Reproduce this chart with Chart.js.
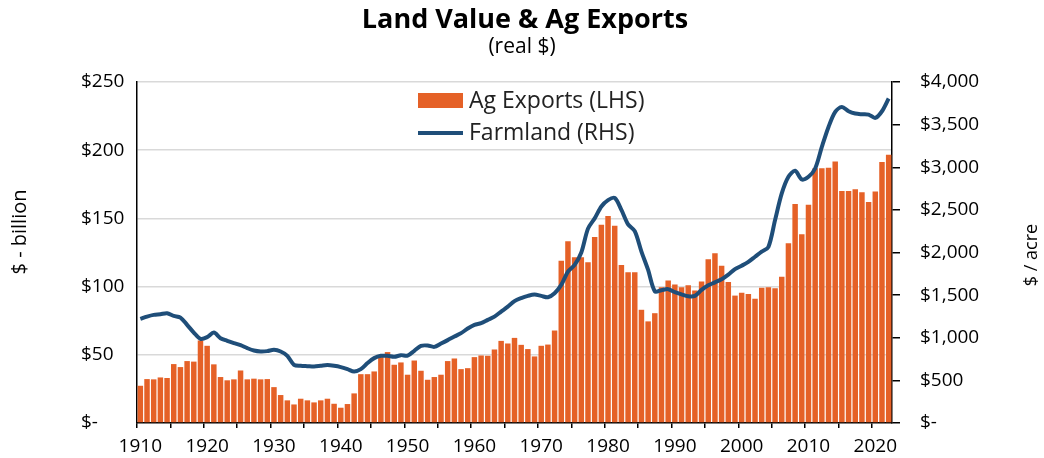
<!DOCTYPE html>
<html>
<head>
<meta charset="utf-8">
<title>Land Value & Ag Exports</title>
<script src="https://cdn.jsdelivr.net/npm/chart.js@4.4.1/dist/chart.umd.min.js"></script>
<style>
    html, body { margin: 0; padding: 0; background: #fff; }
    #wrap { width: 1044px; height: 458px; }
</style>
</head>
<body>
<div id="wrap"><canvas id="myChart" width="1044" height="458"></canvas></div>
<script>
// years on the x axis
const years = [];
for (let y = 1910; y <= 2022; y++) {
    years.push(y);
}

// Ag exports, $ billion (real)
const agExports = [
    27.3, 32.2, 32.0, 33.4, 33.0, 43.2, 41.0, 45.4, 45.0, 60.5,   // 1910s
    56.6, 43.0, 33.7, 31.3, 32.0, 38.5, 32.0, 32.5, 32.0, 32.2,   // 1920s
    26.3, 20.5, 16.6, 13.6, 17.8, 16.6, 15.1, 16.6, 17.8, 14.1,   // 1930s
    11.2, 13.9, 21.7, 35.8, 35.8, 37.8, 48.3, 52.0, 42.7, 44.4,   // 1940s
    35.4, 45.8, 38.3, 31.7, 33.7, 35.4, 45.4, 47.3, 39.5, 40.2,   // 1950s
    48.3, 49.5, 49.3, 53.9, 60.2, 58.3, 62.4, 57.3, 54.2, 48.8,   // 1960s
    56.6, 57.5, 67.8, 119.0, 133.2, 121.5, 121.5, 117.8, 136.4, 145.4, // 1970s
    151.8, 144.7, 115.9, 110.5, 110.5, 83.0, 74.5, 80.5, 99.5, 104.4,  // 1980s
    101.5, 99.5, 101.0, 97.1, 103.8, 120.0, 124.5, 115.2, 103.3, 93.4, // 1990s
    95.5, 94.5, 91.1, 99.2, 99.5, 98.7, 107.3, 131.8, 160.5, 138.4,    // 2000s
    160.0, 186.7, 186.7, 187.1, 191.8, 170.0, 170.0, 171.3, 169.1, 162.0, // 2010s
    169.8, 191.3, 196.6                                                   // 2020s
];

// Farmland value, $ per acre (real)
const farmland = [
    1221, 1248, 1268, 1276, 1288, 1256, 1237, 1151, 1061, 987,
    1007, 1061, 995, 964, 937, 913, 878, 850, 839, 843,
    858, 839, 788, 683, 671, 667, 663, 671, 679, 671,
    656, 632, 604, 632, 703, 761, 788, 788, 776, 796,
    791, 847, 905, 909, 893, 932, 972, 1014, 1054, 1108,
    1151, 1171, 1210, 1248, 1307, 1365, 1429, 1465, 1491, 1506,
    1491, 1475, 1522, 1620, 1775, 1854, 2000, 2280, 2400, 2540,
    2615, 2640, 2500, 2330, 2250, 2010, 1795, 1545, 1558, 1570,
    1535, 1508, 1486, 1491, 1561, 1615, 1650, 1685, 1740, 1805,
    1845, 1890, 1950, 2010, 2065, 2381, 2693, 2888, 2958, 2857,
    2888, 2986, 3239, 3473, 3649, 3707, 3657, 3630, 3622, 3618,
    3579, 3657, 3806
];

const seriesNames = ['Ag Exports (LHS)', 'Farmland (RHS)'];
const axisTitles = ['$ - billion', '$ / acre'];
const titleText = 'Land Value & Ag Exports';
const subtitleText = '(real $)';

const ORANGE = '#E56127';
const BLUE = '#1F4E79';
const FONT = 'Open Sans';

function money(v) {
    if (v == 0) return '$-';
    return '$' + v.toLocaleString('en-US');
}

// title block, centred over the plot rather than the whole canvas
const headTitles = {
    id: 'headTitles',
    afterDraw(chart) {
        const ctx = chart.ctx;
        ctx.save();
        ctx.fillStyle = '#000';
        ctx.textAlign = 'center';
        ctx.textBaseline = 'middle';
        ctx.font = 'bold 27px "' + FONT + '"';
        ctx.fillText(titleText, 525, 20);
        ctx.font = '21px "' + FONT + '"';
        ctx.fillText(subtitleText, 522, 47);
        ctx.restore();
    }
};

// legend sits inside the plot, stacked, like the original
const boxLegend = {
    id: 'boxLegend',
    afterDraw(chart) {
        const ctx = chart.ctx;
        const ds = chart.data.datasets;
        ctx.save();
        ctx.font = '23px "' + FONT + '"';
        ctx.textBaseline = 'middle';
        ctx.textAlign = 'left';

        ctx.fillStyle = ds[0].backgroundColor;
        ctx.fillRect(418, 93, 45, 15);
        ctx.fillStyle = '#222';
        ctx.fillText(ds[0].label, 469, 101);

        ctx.strokeStyle = ds[1].borderColor;
        ctx.lineWidth = 4;
        ctx.beginPath();
        ctx.moveTo(418, 133);
        ctx.lineTo(463, 133);
        ctx.stroke();
        ctx.fillText(ds[1].label, 469, 133);
        ctx.restore();
    }
};

// both axis titles read bottom to top
function sideText(ctx, text, x, y, size) {
    ctx.save();
    ctx.font = size + 'px "' + FONT + '"';
    ctx.fillStyle = '#000';
    ctx.textAlign = 'center';
    ctx.textBaseline = 'middle';
    ctx.translate(x, y);
    ctx.rotate(-Math.PI / 2);
    ctx.fillText(text, 0, 0);
    ctx.restore();
}

const sideTitles = {
    id: 'sideTitles',
    afterDraw(chart) {
        sideText(chart.ctx, axisTitles[0], 20, 232, 20);
        sideText(chart.ctx, axisTitles[1], 1032, 255, 18);
    }
};

function initChart() {
    const ctx = document.getElementById('myChart');
    const myChart = new Chart(ctx, {
        type: 'bar',
        data: {
            labels: years,
            datasets: [{
                type: 'bar',
                label: seriesNames[0],
                data: agExports,
                backgroundColor: ORANGE,
                barPercentage: 0.82,
                categoryPercentage: 1,
                yAxisID: 'y',
                order: 2
            }, {
                type: 'line',
                label: seriesNames[1],
                data: farmland,
                borderColor: BLUE,
                backgroundColor: BLUE,
                borderWidth: 4,
                pointRadius: 0,
                tension: 0.3,
                yAxisID: 'y1',
                order: 1
            }]
        },
        options: {
            responsive: false,
            animation: false,
            devicePixelRatio: 1,
            layout: {
                padding: { left: 81, right: 0, top: 82, bottom: 0 }
            },
            plugins: {
                legend: { display: false },
                tooltip: { enabled: false },
                title: { display: false }
            },
            scales: {
                x: {
                    offset: true,
                    grid: {
                        drawOnChartArea: false,
                        tickLength: 5,
                        lineWidth: 1.5,
                        color: function(c) {
                            return c.index % 5 == 0 ? '#000' : 'rgba(0,0,0,0)';
                        }
                    },
                    border: { display: true, color: '#000', width: 1.5 },
                    ticks: {
                        autoSkip: false,
                        maxRotation: 0,
                        padding: 7,
                        color: '#000',
                        font: { family: FONT, size: 19 },
                        callback: function(val, idx) {
                            return years[idx] % 10 == 0 ? String(years[idx]) : '';
                        }
                    },
                    afterFit: function(scale) { scale.height = 35; }
                },
                y: {
                    position: 'left',
                    min: 0,
                    max: 250,
                    grid: {
                        drawTicks: false,
                        lineWidth: 1.5,
                        color: function(c) {
                            return c.tick && c.tick.value == 0 ? 'rgba(0,0,0,0)' : '#d9d9d9';
                        }
                    },
                    border: { display: true, color: '#000', width: 1.5 },
                    ticks: {
                        stepSize: 50,
                        crossAlign: 'far',
                        color: '#000',
                        font: { family: FONT, size: 19 },
                        callback: function(v) { return money(v); }
                    },
                    afterFit: function(scale) { scale.width = 56; }
                },
                y1: {
                    position: 'right',
                    min: 0,
                    max: 4000,
                    grid: {
                        drawOnChartArea: false,
                        tickLength: 8,
                        lineWidth: 1.5,
                        color: '#000'
                    },
                    border: { display: true, color: '#000', width: 1.5 },
                    ticks: {
                        stepSize: 500,
                        padding: 20,
                        crossAlign: 'near',
                        color: '#000',
                        font: { family: FONT, size: 19 },
                        callback: function(v) { return money(v); }
                    },
                    afterFit: function(scale) { scale.width = 152; }
                }
            }
        },
        plugins: [headTitles, boxLegend, sideTitles]
    });
    return myChart;
}

initChart();
</script>
</body>
</html>
